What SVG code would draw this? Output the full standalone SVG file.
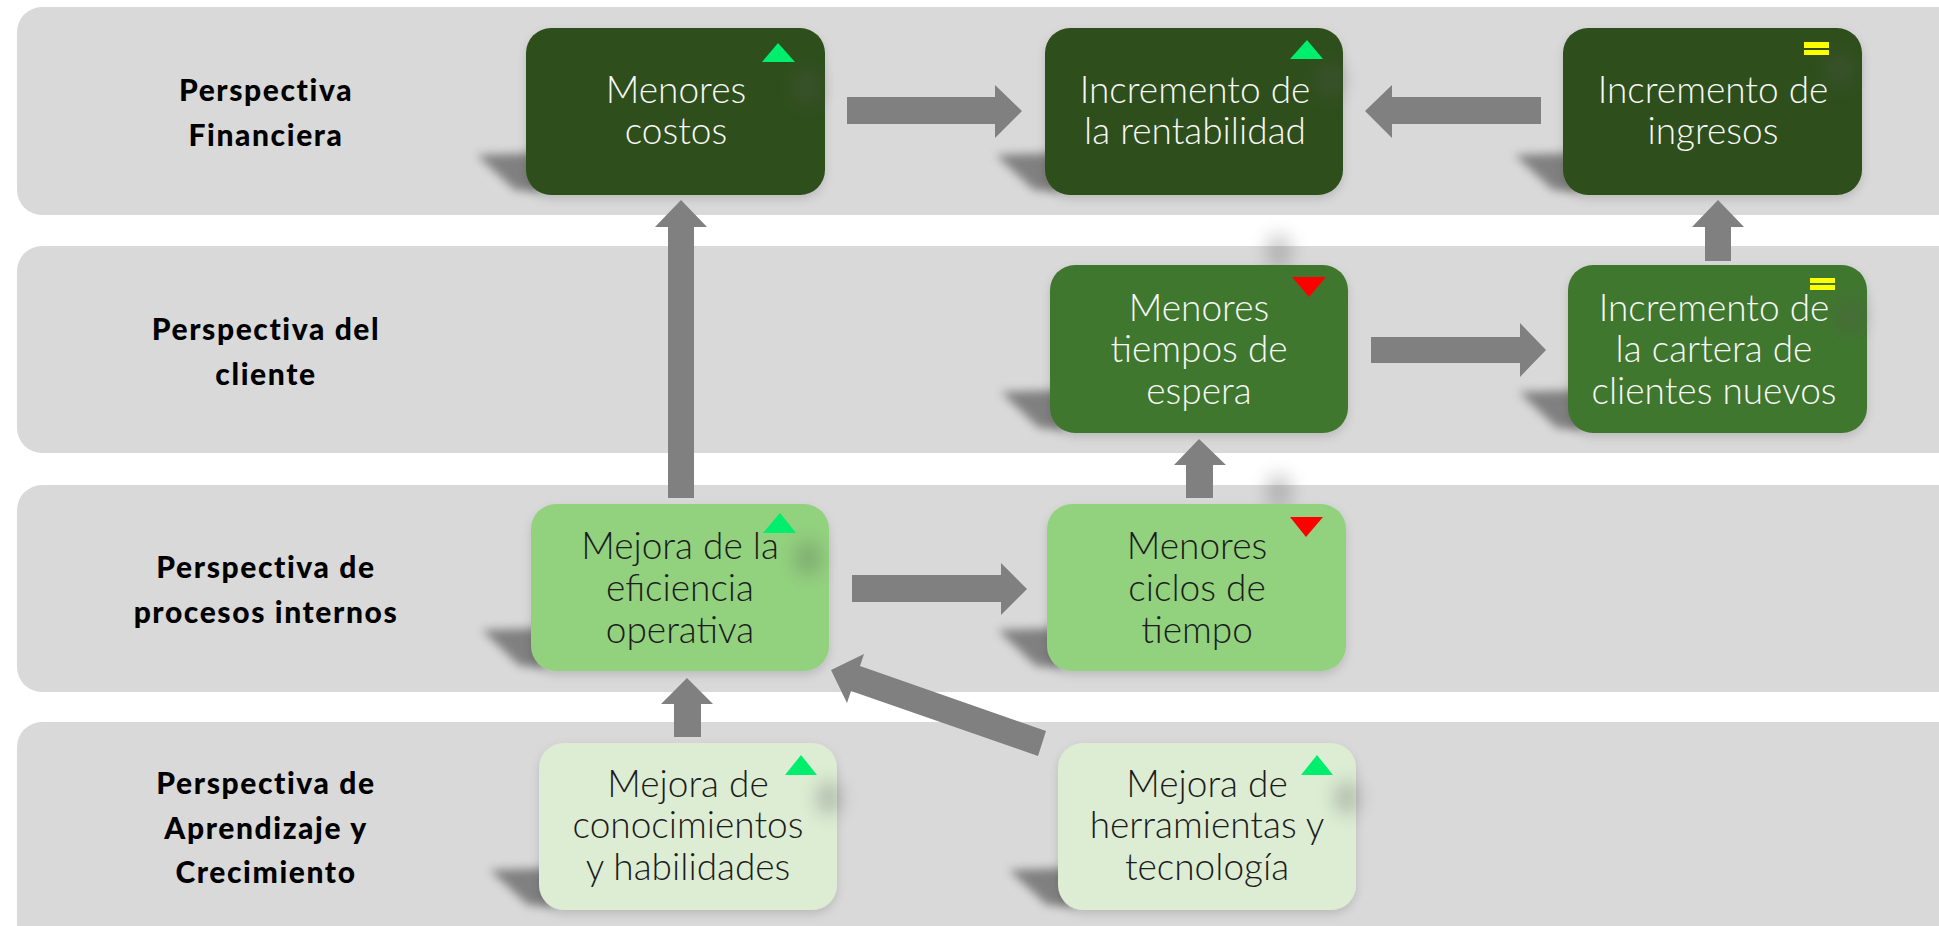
<svg xmlns="http://www.w3.org/2000/svg" width="1939" height="926" viewBox="0 0 1939 926">
<style>
.band{fill:#d9d9d9}
.n{filter:url(#drop)}
.dark{fill:#2d501c}.mid{fill:#41772e}.light{fill:#92d17e}.pale{fill:#dcedd4}
.sm{fill:#6a6a6a;opacity:.8;filter:url(#b1)}
.sr{fill:#555;opacity:.3;filter:url(#b2)}
.t{font-family:"Lato","Open Sans",sans-serif;font-weight:300;font-size:37px;text-anchor:middle}
.w{fill:#f7f7f7}.k{fill:#1c1c1c}
.h{font-family:"Lato","Liberation Sans",sans-serif;font-weight:900;font-size:30px;text-anchor:middle;fill:#000;letter-spacing:1.6px}
.a{fill:#808080}.up{fill:#00ee6e}.down{fill:#ff0000}.eq{fill:#ffff00}
</style>
<defs>
<filter id="drop" x="-10%" y="-10%" width="120%" height="125%"><feDropShadow dx="0" dy="4" stdDeviation="5" flood-color="#000" flood-opacity=".14"/></filter>
<filter id="b1" x="-50%" y="-50%" width="200%" height="200%"><feGaussianBlur stdDeviation="5"/></filter>
<filter id="b2" x="-100%" y="-100%" width="300%" height="300%"><feGaussianBlur stdDeviation="9"/></filter>
</defs>

<g id="bands">
<rect class="band" x="17" y="7" width="1960" height="208" rx="25"/>
<rect class="band" x="17" y="246" width="1960" height="207" rx="25"/>
<rect class="band" x="17" y="485" width="1960" height="207" rx="25"/>
<rect class="band" x="17" y="722" width="1960" height="240" rx="25"/>
</g>

<g id="row-labels">
<text class="h" x="266" y="101">Perspectiva</text><text class="h" x="266" y="146">Financiera</text>
<text class="h" x="266" y="340">Perspectiva del</text><text class="h" x="266" y="385">cliente</text>
<text class="h" x="266" y="578">Perspectiva de</text><text class="h" x="266" y="623">procesos internos</text>
<text class="h" x="266" y="794">Perspectiva de</text><text class="h" x="266" y="839">Aprendizaje y</text><text class="h" x="266" y="883">Crecimiento</text>
</g>

<g id="smudges">
<polygon class="sm" points="477,155 540,153 540,192 515,190"/>
<polygon class="sm" points="996,155 1059,153 1059,192 1034,190"/>
<polygon class="sm" points="1515,155 1578,153 1578,192 1553,190"/>
<polygon class="sm" points="1001,392 1064,390 1064,430 1039,428"/>
<polygon class="sm" points="1519,392 1582,390 1582,430 1557,428"/>
<polygon class="sm" points="482,630 545,628 545,668 520,666"/>
<polygon class="sm" points="998,630 1061,628 1061,668 1036,666"/>
<polygon class="sm" points="490,870 553,868 553,907 528,905"/>
<polygon class="sm" points="1009,870 1072,868 1072,907 1047,905"/>
<ellipse class="sr" cx="1279" cy="252" rx="13" ry="18"/>
<ellipse class="sr" cx="1279" cy="492" rx="13" ry="18"/>
</g>

<g id="node-menores-costos">
<rect class="n dark" x="526" y="28" width="299" height="167" rx="25"/>
<ellipse class="sr" cx="807" cy="87" rx="14" ry="18"/>
<polygon class="up" points="778,43 795,62 762,62"/>
<text class="t w" x="676" y="103">Menores</text><text class="t w" x="676" y="144">costos</text>
</g>
<g id="node-incremento-rentabilidad">
<rect class="n dark" x="1045" y="28" width="298" height="167" rx="25"/>
<ellipse class="sr" cx="1330" cy="80" rx="14" ry="18"/>
<polygon class="up" points="1307,40 1323,59 1290,59"/>
<text class="t w" x="1195" y="103">Incremento de</text><text class="t w" x="1195" y="144">la rentabilidad</text>
</g>
<g id="node-incremento-ingresos">
<rect class="n dark" x="1563" y="28" width="299" height="167" rx="25"/>
<ellipse class="sr" cx="1840" cy="70" rx="14" ry="18"/>
<rect class="eq" x="1804" y="42" width="25" height="6"/><rect class="eq" x="1804" y="50" width="25" height="5"/>
<text class="t w" x="1713" y="103">Incremento de</text><text class="t w" x="1713" y="144">ingresos</text>
</g>
<g id="node-menores-tiempos">
<rect class="n mid" x="1050" y="265" width="298" height="168" rx="25"/>
<polygon class="down" points="1292,277 1326,277 1309,297"/>
<text class="t w" x="1199" y="321">Menores</text><text class="t w" x="1199" y="362">tiempos de</text><text class="t w" x="1199" y="404">espera</text>
</g>
<g id="node-cartera">
<rect class="n mid" x="1568" y="265" width="299" height="168" rx="25"/>
<ellipse class="sr" cx="1850" cy="315" rx="14" ry="18"/>
<rect class="eq" x="1810" y="278" width="25" height="5"/><rect class="eq" x="1810" y="285" width="25" height="5"/>
<text class="t w" x="1714" y="321">Incremento de</text><text class="t w" x="1714" y="362">la cartera de</text><text class="t w" x="1714" y="404">clientes nuevos</text>
</g>
<g id="node-eficiencia">
<rect class="n light" x="531" y="504" width="298" height="167" rx="25"/>
<ellipse class="sr" cx="808" cy="558" rx="13" ry="17"/>
<polygon class="up" points="780,513 796,533 763,533"/>
<text class="t k" x="680" y="559">Mejora de la</text><text class="t k" x="680" y="601">eficiencia</text><text class="t k" x="680" y="643">operativa</text>
</g>
<g id="node-ciclos">
<rect class="n light" x="1047" y="504" width="299" height="167" rx="25"/>
<polygon class="down" points="1290,517 1323,517 1306,537"/>
<text class="t k" x="1197" y="559">Menores</text><text class="t k" x="1197" y="601">ciclos de</text><text class="t k" x="1197" y="643">tiempo</text>
</g>
<g id="node-conocimientos">
<rect class="n pale" x="539" y="743" width="298" height="167" rx="25"/>
<ellipse class="sr" cx="829" cy="798" rx="13" ry="17"/>
<polygon class="up" points="801,755 817,775 785,775"/>
<text class="t k" x="688" y="797">Mejora de</text><text class="t k" x="688" y="838">conocimientos</text><text class="t k" x="688" y="880">y habilidades</text>
</g>
<g id="node-herramientas">
<rect class="n pale" x="1058" y="743" width="298" height="167" rx="25"/>
<ellipse class="sr" cx="1347" cy="798" rx="13" ry="17"/>
<polygon class="up" points="1317,755 1333,775 1301,775"/>
<text class="t k" x="1207" y="797">Mejora de</text><text class="t k" x="1207" y="838">herramientas y</text><text class="t k" x="1207" y="880">tecnología</text>
</g>

<g id="connectors">
<polygon class="a" points="847,97 995,97 995,85 1022,111 995,138 995,124 847,124"/>
<polygon class="a" points="1541,97 1392,97 1392,85 1365,111 1392,138 1392,124 1541,124"/>
<polygon class="a" points="1371,337 1520,337 1520,323 1546,350 1520,377 1520,363 1371,363"/>
<polygon class="a" points="668,498 668,227 655,227 681,200 707,227 694,227 694,498"/>
<polygon class="a" points="1705,261 1705,227 1692,227 1718,200 1744,227 1731,227 1731,261"/>
<polygon class="a" points="1186,498 1186,465 1174,465 1199,439 1226,465 1213,465 1213,498"/>
<polygon class="a" points="852,575 1001,575 1001,563 1027,589 1001,615 1001,602 852,602"/>
<polygon class="a" points="674,737 674,704 661,704 687,678 713,704 701,704 701,737"/>
<polygon class="a" points="1046,731 860,666 864,654 831,670 847,703 851,691 1038,756"/>
</g>
</svg>
